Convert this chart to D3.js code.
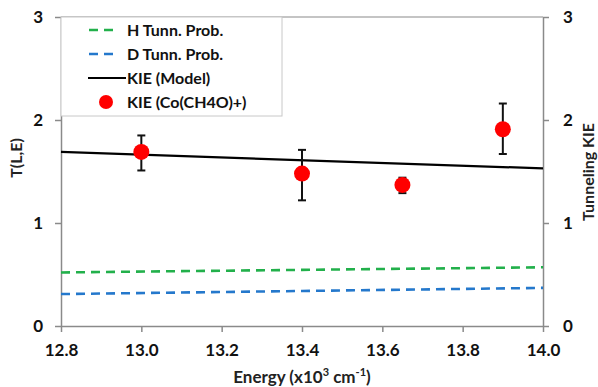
<!DOCTYPE html>
<html><head><meta charset="utf-8">
<script src="https://cdn.jsdelivr.net/npm/d3@7"></script>
<style>body{margin:0;background:#fff}text{font-family:Lato,"Open Sans",sans-serif;font-weight:bold}</style>
</head><body><svg id="c" width="598" height="387"></svg>
<script>
const xTicks = [12.8, 13.0, 13.2, 13.4, 13.6, 13.8, 14.0];
const yTicks = [0, 1, 2, 3];
const hEnergy = [12.8, 13.4, 14.0];
const hProb = [0.52, 0.545, 0.57];
const dEnergy = [12.8, 13.4, 14.0];
const dProb = [0.31, 0.34, 0.37];
const modelEnergy = [12.8, 14.0];
const modelKIE = [1.69, 1.53];
const expEnergy = [13.0, 13.4, 13.65, 13.9];
const expKIE = [1.69, 1.48, 1.37, 1.91];
const expHigh = [1.85, 1.71, 1.44, 2.16];
const expLow = [1.51, 1.22, 1.29, 1.67];
const legendLabels = ["H Tunn. Prob.", "D Tunn. Prob.", "KIE (Model)", "KIE (Co(CH4O)+)"];

const svg = d3.select("#c");
const L = 61, R = 543, T = 17, B = 326;
const x = d3.scaleLinear().domain([12.8, 14.0]).range([L, R]);
const y = d3.scaleLinear().domain([0, 3]).range([B, T]);
const axisCol = "#8a8a8a";

// top border
svg.append("line").attr("x1", L).attr("x2", R).attr("y1", T).attr("y2", T).attr("stroke", axisCol).attr("stroke-width", 1.2);

function styleAxis(g){
  g.selectAll("path,line").attr("stroke", axisCol).attr("stroke-width", 1.5);
  g.selectAll("text").attr("fill", "#111").style("font-size", "17px");
}
svg.append("g").attr("transform", `translate(0,${B})`)
  .call(d3.axisBottom(x).tickValues(xTicks).tickFormat(d3.format(".1f")).tickSize(6).tickSizeOuter(0).tickPadding(12))
  .call(styleAxis);
svg.append("g").attr("transform", `translate(${L},0)`)
  .call(d3.axisLeft(y).tickValues(yTicks).tickFormat(d3.format("d")).tickSize(6).tickSizeOuter(0).tickPadding(12))
  .call(styleAxis);
svg.append("g").attr("transform", `translate(${R},0)`)
  .call(d3.axisRight(y).tickValues(yTicks).tickFormat(d3.format("d")).tickSize(6).tickSizeOuter(0).tickPadding(14))
  .call(styleAxis);

// axis titles
svg.append("text").attr("x", (L + R) / 2).attr("y", 383).attr("text-anchor", "middle").style("font-size", "17px").attr("fill", "#222")
  .html('Energy (x10<tspan dy="-7" style="font-size:11px">3</tspan><tspan dy="7"> cm</tspan><tspan dy="-7" style="font-size:11px">-1</tspan><tspan dy="7">)</tspan>');
svg.append("text").attr("transform", "translate(22,158) rotate(-90)").attr("text-anchor", "middle").style("font-size", "16px").attr("fill", "#222").text("T(L,E)");
svg.append("text").attr("transform", "translate(594,172) rotate(-90)").attr("text-anchor", "middle").style("font-size", "16px").attr("fill", "#222").text("Tunneling  KIE");

const line = d3.line().x(d => x(d[0])).y(d => y(d[1]));
svg.append("path").datum(d3.zip(hEnergy, hProb)).attr("d", line).attr("fill", "none")
  .attr("stroke", "#22b04b").attr("stroke-width", 2.6).attr("stroke-dasharray", "9,6");
svg.append("path").datum(d3.zip(dEnergy, dProb)).attr("d", line).attr("fill", "none")
  .attr("stroke", "#2478cc").attr("stroke-width", 2.6).attr("stroke-dasharray", "9,6");
svg.append("path").datum(d3.zip(modelEnergy, modelKIE)).attr("d", line).attr("fill", "none")
  .attr("stroke", "#000").attr("stroke-width", 2.2);

// error bars
const eb = svg.append("g").attr("stroke", "#111").attr("stroke-width", 2);
expEnergy.forEach((e, i) => {
  eb.append("line").attr("x1", x(e)).attr("x2", x(e)).attr("y1", y(expHigh[i])).attr("y2", y(expLow[i]));
  eb.append("line").attr("x1", x(e) - 4).attr("x2", x(e) + 4).attr("y1", y(expHigh[i])).attr("y2", y(expHigh[i]));
  eb.append("line").attr("x1", x(e) - 4).attr("x2", x(e) + 4).attr("y1", y(expLow[i])).attr("y2", y(expLow[i]));
});
svg.append("g").selectAll("circle").data(d3.zip(expEnergy, expKIE)).join("circle")
  .attr("cx", d => x(d[0])).attr("cy", d => y(d[1])).attr("r", 8).attr("fill", "#ff0000");

// legend
const lg = svg.append("g");
lg.append("rect").attr("x", 61).attr("y", 17).attr("width", 221).attr("height", 99).attr("fill", "#fff").attr("stroke", "#c8c8c8").attr("stroke-width", 1);
const ly = [30, 54, 78, 102];
lg.append("line").attr("x1", 89).attr("x2", 118).attr("y1", ly[0]).attr("y2", ly[0]).attr("stroke", "#22b04b").attr("stroke-width", 2.6).attr("stroke-dasharray", "9,6");
lg.append("line").attr("x1", 89).attr("x2", 118).attr("y1", ly[1]).attr("y2", ly[1]).attr("stroke", "#2478cc").attr("stroke-width", 2.6).attr("stroke-dasharray", "9,6");
lg.append("line").attr("x1", 88).attr("x2", 126).attr("y1", ly[2]).attr("y2", ly[2]).attr("stroke", "#000").attr("stroke-width", 2.2);
lg.append("circle").attr("cx", 106).attr("cy", ly[3]).attr("r", 7).attr("fill", "#ff0000");
lg.selectAll("text.lab").data(legendLabels).join("text").attr("class", "lab")
  .attr("x", 127).attr("y", (d, i) => ly[i] + 6).style("font-size", "16px").attr("fill", "#111").text(d => d);
</script></body></html>
